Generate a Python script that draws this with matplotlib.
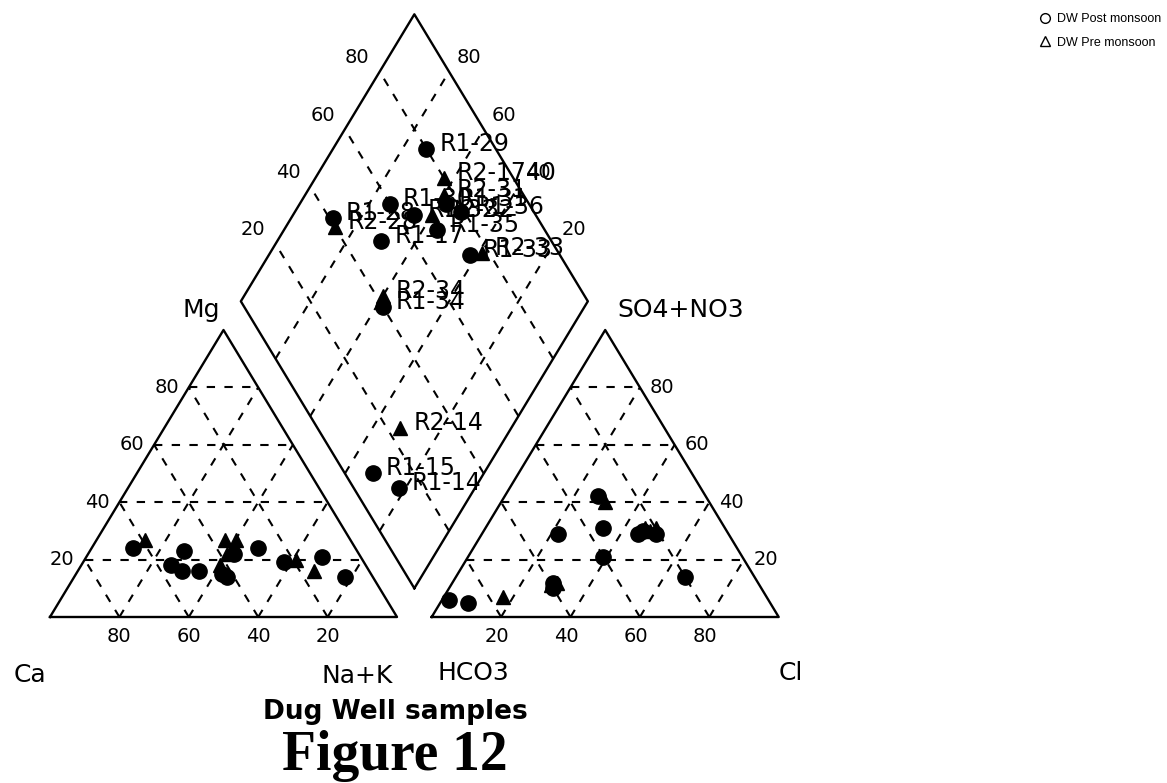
import numpy as np
import matplotlib.pyplot as plt
from matplotlib.lines import Line2D

# dug well samples, R1 = post monsoon, R2 = pre monsoon (% meq/l)
names = ["R1-29", "R2-1740", "R1-28", "R2-28", "R1-30", "R1-32", "R1-35", "R1-31",
         "R1-36", "R2-31", "R2-32", "R1-17", "R1-33", "R2-33", "R2-34", "R1-34",
         "R2-14", "R1-15", "R1-14"]
mg = [23, 27, 24, 27, 18, 16, 14, 22, 24, 18, 22, 16, 19, 20, 27, 15, 16, 21, 14]
nak = [27, 37, 12, 14, 26, 35, 44, 42, 48, 40, 40, 30, 58, 61, 40, 42, 68, 68, 78]
so4 = [14, 31, 12, 11, 21, 31, 42, 30, 29, 31, 40, 29, 29, 30, 12, 10, 7, 6, 5]
cl = [66, 49, 29, 29, 39, 34, 27, 46, 50, 46, 30, 22, 45, 48, 30, 30, 17, 2, 8]

ticks = [20, 40, 60, 80]

h = np.sqrt(3) / 2
gap = 0.1
SX, SY = 347.0, 331.4   # pixels per unit


def left_xy(m, n):
    return n + m / 2, m * h


def right_xy(s, c):
    return 1 + gap + c + s / 2, s * h


def diamond_xy(camg, scl):
    return 1 + gap / 2 + 0.5 * (scl - camg), gap * h + h * (camg + scl)


mg_f = np.array(mg) / 100
nak_f = np.array(nak) / 100
so4_f = np.array(so4) / 100
cl_f = np.array(cl) / 100
camg_f = 1 - nak_f
scl_f = so4_f + cl_f
is_pre = np.array([n.startswith("R2") for n in names])

fig = plt.figure(figsize=(11.67, 7.83), dpi=100)
ax = fig.add_axes([0, 0, 1, 1])
ax.set_xlim(-50 / SX, 1117 / SX)
ax.set_ylim((617 - 783) / SY, 617 / SY)
ax.axis("off")

olw = 1.7
dash = dict(color="black", lw=1.5, ls=(0, (4, 4.5)))

# outlines
B = np.array(diamond_xy(0, 0))
L = np.array(diamond_xy(1, 0))
R = np.array(diamond_xy(0, 1))
T = np.array(diamond_xy(1, 1))
ax.plot([0, 1, 0.5, 0], [0, 0, h, 0], color="black", lw=olw)
ax.plot([1 + gap, 2 + gap, 1.5 + gap, 1 + gap], [0, 0, h, 0], color="black", lw=olw)
ax.plot([B[0], R[0], T[0], L[0], B[0]], [B[1], R[1], T[1], L[1], B[1]], color="black", lw=olw)

# dashed grids
for t in ticks:
    v = t / 100
    for off in (0, 1 + gap):
        ax.plot([off + v / 2, off + 1 - v / 2], [v * h, v * h], **dash)
        ax.plot([off + v, off + v + (1 - v) / 2], [0, (1 - v) * h], **dash)
        ax.plot([off + 1 - v, off + (1 - v) / 2], [0, (1 - v) * h], **dash)
    p0 = np.array(diamond_xy(v, 0))
    p1 = np.array(diamond_xy(v, 1))
    ax.plot([p0[0], p1[0]], [p0[1], p1[1]], **dash)
    p0 = np.array(diamond_xy(0, v))
    p1 = np.array(diamond_xy(1, v))
    ax.plot([p0[0], p1[0]], [p0[1], p1[1]], **dash)

# tick labels
tfs = 14
for t in ticks:
    v = t / 100
    ax.annotate(str(t), (1 - v, 0), xytext=(0, -20), textcoords="offset pixels",
                ha="center", va="center", fontsize=tfs)
    ax.annotate(str(t), left_xy(v, 0), xytext=(-10, 0), textcoords="offset pixels",
                ha="right", va="center", fontsize=tfs)
    ax.annotate(str(t), right_xy(0, v), xytext=(-4, -20), textcoords="offset pixels",
                ha="center", va="center", fontsize=tfs)
    ax.annotate(str(t), right_xy(v, 1 - v), xytext=(10, 0), textcoords="offset pixels",
                ha="left", va="center", fontsize=tfs)
    ax.annotate(str(t), diamond_xy(1, v), xytext=(-10, 14), textcoords="offset pixels",
                ha="right", va="center", fontsize=tfs)
    ax.annotate(str(t), diamond_xy(v, 1), xytext=(8, 14), textcoords="offset pixels",
                ha="left", va="center", fontsize=tfs)

# corner names
afs = 18
corner = [("Mg", (0.5, h), (-22, 20)), ("Ca", (0, 0), (-20, -58)),
          ("Na+K", (1, 0), (-40, -59)), ("HCO3", (1 + gap, 0), (42, -56)),
          ("Cl", (2 + gap, 0), (12, -56)), ("SO4+NO3", (1.5 + gap, h), (75, 20))]
for txt, xy, off in corner:
    ax.annotate(txt, xy, xytext=off, textcoords="offset pixels",
                ha="center", va="center", fontsize=afs)

# samples
for pre, mk, ms in ((False, "o", 11), (True, "^", 10.5)):
    sel = is_pre == pre
    x, y = left_xy(mg_f[sel], nak_f[sel])
    ax.plot(x, y, mk, color="black", ms=ms, ls="none")
    x, y = right_xy(so4_f[sel], cl_f[sel])
    ax.plot(x, y, mk, color="black", ms=ms, ls="none")
    x, y = diamond_xy(camg_f[sel], scl_f[sel])
    ax.plot(x, y, mk, color="black", ms=ms, ls="none")

for i, n in enumerate(names):
    ax.annotate(n, diamond_xy(camg_f[i], scl_f[i]), xytext=(13, 5),
                textcoords="offset pixels", ha="left", va="center", fontsize=17)

handles = [Line2D([], [], marker="o", mfc="none", mec="black", ls="none", ms=7),
           Line2D([], [], marker="^", mfc="none", mec="black", ls="none", ms=7)]
fig.legend(handles, ["DW Post monsoon", "DW Pre monsoon"], loc="upper left",
           bbox_to_anchor=(1026 / 1167, 1 - 2 / 783), frameon=False,
           prop=dict(family="Liberation Sans", size=9),
           handletextpad=0.4, labelspacing=0.9, handlelength=1.2)

fig.text(395 / 1167, 1 - 719 / 783, "Dug Well samples", ha="center", va="baseline",
         fontsize=19, fontweight="bold")
fig.text(395 / 1167, 1 - 770 / 783, "Figure 12", ha="center", va="baseline",
         fontsize=40, fontweight="bold", family="Liberation Serif")

fig.savefig("out.png", dpi=100)
